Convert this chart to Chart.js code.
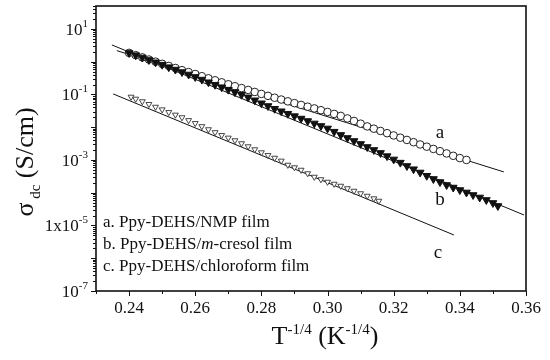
<!DOCTYPE html>
<html>
<head>
<meta charset="utf-8">
<script src="https://cdn.jsdelivr.net/npm/chart.js@4/dist/chart.umd.min.js"></script>
<style>
  html, body { margin: 0; padding: 0; background: #fff; }
  #wrap { width: 550px; height: 360px; }
</style>
</head>
<body>
<div id="wrap"><canvas id="sigmaChart" width="550" height="360"></canvas></div>
<script>
// film a: Ppy-DEHS/NMP (open circles)
const xA = [0.240, 0.242, 0.244, 0.246, 0.248, 0.250, 0.252, 0.254, 0.256, 0.258,
            0.260, 0.262, 0.264, 0.266, 0.268, 0.270, 0.272, 0.274, 0.276, 0.278,
            0.280, 0.282, 0.284, 0.286, 0.288, 0.290, 0.292, 0.294, 0.296, 0.298,
            0.300, 0.302, 0.304, 0.306, 0.308, 0.310, 0.312, 0.314, 0.316, 0.318,
            0.320, 0.322, 0.324, 0.326, 0.328, 0.330, 0.332, 0.334, 0.336, 0.338,
            0.340, 0.342];
const sigmaA = [1.85, 1.58, 1.35, 1.16, 1.00, 0.86, 0.74, 0.64, 0.55, 0.48,
                0.42, 0.36, 0.31, 0.27, 0.234, 0.204, 0.178, 0.156, 0.137, 0.119,
                0.1035, 0.0905, 0.0793, 0.0698, 0.0615, 0.0542, 0.0478, 0.0423, 0.0374, 0.0330,
                0.0292, 0.0254, 0.0221, 0.0185, 0.0155, 0.0128, 0.01055, 0.0090, 0.00768, 0.00656,
                0.0056, 0.00478, 0.00408, 0.00348, 0.00297, 0.00254, 0.00217, 0.00185, 0.00158, 0.00134,
                0.00114, 0.00100];

// film b: Ppy-DEHS/m-cresol (filled down triangles)
const xB = [0.240, 0.242, 0.244, 0.246, 0.248, 0.250, 0.252, 0.254, 0.256, 0.258,
            0.260, 0.262, 0.264, 0.266, 0.268, 0.270, 0.272, 0.274, 0.276, 0.278,
            0.280, 0.282, 0.284, 0.286, 0.288, 0.290, 0.292, 0.294, 0.296, 0.298,
            0.300, 0.302, 0.304, 0.306, 0.308, 0.310, 0.312, 0.314, 0.316, 0.318,
            0.320, 0.322, 0.324, 0.326, 0.328, 0.330, 0.332, 0.334, 0.336, 0.338,
            0.340, 0.342, 0.344, 0.346, 0.348, 0.350, 0.3515];
const sigmaB = [1.85, 1.58, 1.34, 1.13, 0.96, 0.81, 0.68, 0.575, 0.483, 0.407,
                0.342, 0.284, 0.236, 0.198, 0.166, 0.140, 0.1175, 0.098, 0.0815, 0.0662,
                0.0538, 0.0444, 0.0366, 0.0307, 0.0258, 0.0218, 0.01837, 0.01546, 0.01302, 0.01092,
                0.00916, 0.00729, 0.0058, 0.0047, 0.0038, 0.00308, 0.00249, 0.00202, 0.00164, 0.00131,
                0.00104, 0.00083, 0.000656, 0.000522, 0.000415, 0.00033, 0.000263, 0.000212, 0.000172, 0.000144,
                0.000121, 0.000102, 0.0000853, 0.0000716, 0.0000601, 0.0000487, 0.0000394];

// film c: Ppy-DEHS/chloroform (open down triangles)
const xC = [0.2406, 0.242, 0.244, 0.246, 0.248, 0.250, 0.252, 0.254, 0.256, 0.258,
            0.260, 0.262, 0.264, 0.266, 0.268, 0.270, 0.272, 0.274, 0.276, 0.278,
            0.280, 0.282, 0.284, 0.286, 0.288, 0.290, 0.292, 0.294, 0.296, 0.298,
            0.300, 0.302, 0.304, 0.306, 0.308, 0.310, 0.312, 0.314, 0.3155];
const sigmaC = [0.0840, 0.073, 0.0611, 0.0503, 0.0415, 0.0345, 0.0286, 0.0238, 0.01985, 0.0162,
                0.0132, 0.0106, 0.00853, 0.00696, 0.00568, 0.00473, 0.00394, 0.00319, 0.00258, 0.00209,
                0.00169, 0.00139, 0.00115, 0.00094, 0.000703, 0.00059, 0.000495, 0.000387, 0.000303, 0.000254,
                0.000213, 0.000185, 0.000161, 0.000135, 0.000113, 0.000095, 0.0000796, 0.0000665, 0.000056];

// straight fit lines (end points)
const fitAx = [0.2363, 0.3533], fitAy = [2.17, 4.31e-4];
const fitBx = [0.2348, 0.3594], fitBy = [3.24, 2.09e-5];
const fitCx = [0.2352, 0.3382], fitCy = [0.1035, 5.13e-6];

const xTicks = [0.24, 0.26, 0.28, 0.30, 0.32, 0.34, 0.36];
const xTickLabels = ['0.24', '0.26', '0.28', '0.30', '0.32', '0.34', '0.36'];
const yTicks = [10, 0.1, 1e-3, 1e-5, 1e-7];
const yTickLabels = [['10', '1'], ['10', '-1'], ['10', '-3'], ['1x10', '-5'], ['10', '-7']];
const legendLines = [
    [['a. Ppy-DEHS/NMP film', '']],
    [['b. Ppy-DEHS/', ''], ['m', 'italic '], ['-cresol film', '']],
    [['c. Ppy-DEHS/chloroform film', '']]
];

const SERIF = '"Liberation Serif", "Times New Roman", serif';
const pts = (xs, ys) => xs.map((x, i) => ({ x, y: ys[i] }));

function drawParts(ctx, parts, x, y, align) {
    let w = 0;
    parts.forEach(p => { ctx.font = p.font; w += ctx.measureText(p.t).width; });
    let cx = align === 'right' ? x - w : align === 'center' ? x - w / 2 : x;
    parts.forEach(p => {
        ctx.font = p.font;
        ctx.fillText(p.t, cx, y + (p.dy || 0));
        cx += ctx.measureText(p.t).width;
    });
}

const decorPlugin = {
    id: 'decor',
    afterDraw(chart) {
        const { ctx, chartArea: ca } = chart;
        const xs = chart.scales.x, ys = chart.scales.y;
        ctx.save();
        ctx.strokeStyle = '#111';
        ctx.fillStyle = '#111';
        ctx.lineWidth = 1.6;
        ctx.strokeRect(ca.left, ca.top, ca.right - ca.left, ca.bottom - ca.top);

        // x ticks every 0.01, outward
        ctx.lineWidth = 1;
        ctx.beginPath();
        for (let k = 23; k <= 36; k++) {
            const px = Math.round(xs.getPixelForValue(k / 100)) + 0.5;
            const len = k % 2 === 0 ? 5 : 3;
            ctx.moveTo(px, ca.bottom);
            ctx.lineTo(px, ca.bottom + len);
        }
        // y log ticks, outward
        for (let n = -7; n <= 1; n++) {
            for (let m = 1; m <= 9; m++) {
                const v = m * Math.pow(10, n);
                if (v > ys.max) continue;
                const py = Math.round(ys.getPixelForValue(v)) + 0.5;
                const len = m === 1 ? 5 : 3;
                ctx.moveTo(ca.left, py);
                ctx.lineTo(ca.left - len, py);
            }
        }
        ctx.stroke();

        ctx.textBaseline = 'alphabetic';
        // x tick labels
        ctx.font = '17px ' + SERIF;
        ctx.textAlign = 'center';
        xTicks.forEach((v, i) => {
            ctx.fillText(xTickLabels[i], xs.getPixelForValue(v), ca.bottom + 22);
        });
        ctx.textAlign = 'left';
        // y tick labels with superscript exponent
        yTicks.forEach((v, i) => {
            const py = ys.getPixelForValue(v);
            drawParts(ctx, [
                { t: yTickLabels[i][0], font: '17px ' + SERIF, dy: 0 },
                { t: yTickLabels[i][1], font: '11px ' + SERIF, dy: -8 }
            ], ca.left - 8, py + 6, 'right');
        });

        // x title
        drawParts(ctx, [
            { t: 'T', font: '26px ' + SERIF },
            { t: '-1/4', font: '15px ' + SERIF, dy: -10 },
            { t: ' (K', font: '26px ' + SERIF },
            { t: '-1/4', font: '15px ' + SERIF, dy: -10 },
            { t: ')', font: '26px ' + SERIF }
        ], 325, 344, 'center');

        // y title, rotated
        ctx.save();
        ctx.translate(33, 162);
        ctx.rotate(-Math.PI / 2);
        drawParts(ctx, [
            { t: 'σ', font: '26px ' + SERIF },
            { t: ' dc', font: '15px ' + SERIF, dy: 7 },
            { t: ' (S/cm)', font: '26px ' + SERIF }
        ], 0, 0, 'center');
        ctx.restore();

        // legend text block
        legendLines.forEach((line, i) => {
            drawParts(ctx, line.map(p => ({ t: p[0], font: p[1] + '17px ' + SERIF })),
                103, 227 + i * 22, 'left');
        });

        // curve letters
        ctx.font = '19px ' + SERIF;
        ctx.textAlign = 'center';
        ctx.fillText('a', 440, 138);
        ctx.fillText('b', 440, 205);
        ctx.fillText('c', 438, 258);
        ctx.restore();
    }
};

new Chart(document.getElementById('sigmaChart'), {
    type: 'scatter',
    data: {
        datasets: [{
            label: 'fit a', type: 'line', data: pts(fitAx, fitAy),
            borderColor: '#111', borderWidth: 1, pointRadius: 0, fill: false, order: 4
        }, {
            label: 'fit b', type: 'line', data: pts(fitBx, fitBy),
            borderColor: '#111', borderWidth: 1, pointRadius: 0, fill: false, order: 4
        }, {
            label: 'fit c', type: 'line', data: pts(fitCx, fitCy),
            borderColor: '#111', borderWidth: 1, pointRadius: 0, fill: false, order: 4
        }, {
            label: 'a. Ppy-DEHS/NMP film', data: pts(xA, sigmaA),
            pointStyle: 'circle', pointRadius: 3.8,
            backgroundColor: '#fff', borderColor: '#222', borderWidth: 1, order: 2
        }, {
            label: 'b. Ppy-DEHS/m-cresol film', data: pts(xB, sigmaB),
            pointStyle: 'triangle', rotation: 180, pointRadius: 4.5,
            backgroundColor: '#111', borderColor: '#111', borderWidth: 1, order: 1
        }, {
            label: 'c. Ppy-DEHS/chloroform film', data: pts(xC, sigmaC),
            pointStyle: 'triangle', rotation: 180, pointRadius: 3.4,
            backgroundColor: '#fff', borderColor: '#333', borderWidth: 0.9, order: 3
        }]
    },
    options: {
        responsive: false,
        animation: false,
        devicePixelRatio: 1,
        layout: { padding: { left: 0, top: 6, right: 24, bottom: 0 } },
        scales: {
            x: {
                type: 'linear', min: 0.23, max: 0.36,
                grid: { display: false }, border: { display: false },
                ticks: { display: false },
                afterFit: (s) => { s.height = 69; }
            },
            y: {
                type: 'logarithmic', min: 1e-7, max: 50,
                grid: { display: false }, border: { display: false },
                ticks: { display: false },
                afterFit: (s) => { s.width = 96; }
            }
        },
        plugins: {
            legend: { display: false },
            tooltip: { enabled: false }
        }
    },
    plugins: [decorPlugin]
});
</script>
</body>
</html>
